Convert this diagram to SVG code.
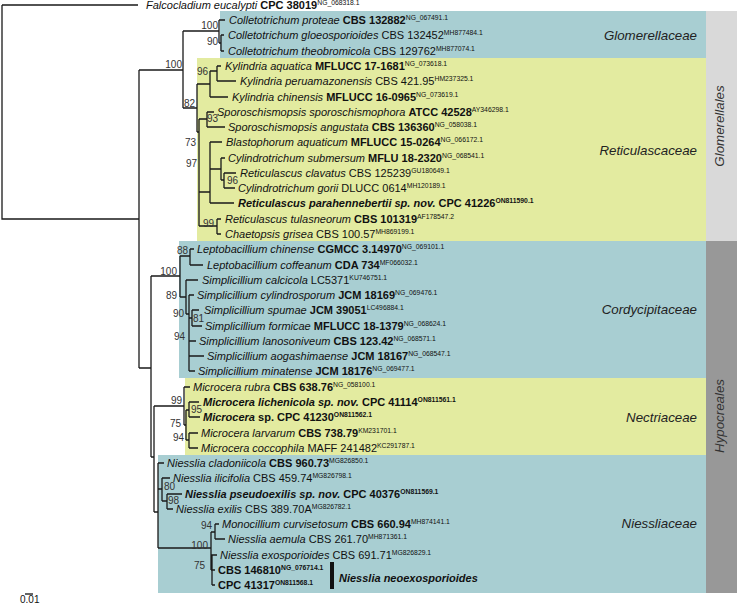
<svg xmlns="http://www.w3.org/2000/svg" width="737" height="604" viewBox="0 0 737 604">
<style>
text{font-family:"Liberation Sans",Arial,sans-serif;fill:#111}
.t{font-size:11px}
.i{font-style:italic}
.b{font-weight:bold}
.s{font-size:6.8px}
.bs{font-size:10px;fill:#333}
.fam{font-size:13.3px;font-style:italic;fill:#222}
.ord{font-size:13.3px;font-style:italic;fill:#333}
.br{fill:none;stroke:#1a1a1a;stroke-width:1.3}
</style>
<g id="backgrounds">
<rect x="220" y="11" width="486" height="47" fill="#a8ced2"/>
<rect x="197" y="58" width="509" height="183" fill="#e3eba0"/>
<rect x="179" y="241" width="527" height="137" fill="#a8ced2"/>
<rect x="185" y="378" width="521" height="77" fill="#e3eba0"/>
<rect x="158" y="455" width="548" height="138" fill="#a8ced2"/>
<rect x="706" y="11" width="31" height="230" fill="#d9d9d9"/>
<rect x="706" y="241" width="31" height="352" fill="#989898"/>
</g>
<g id="connectors" class="br">
<path d="M2,5H138M2,5V219H139M139,70V368M139,70H183M183,31V108M183,31H219M219,20V43M219,20H225M219,43H221M221,35V51M221,35H224M221,51H224"/>
<path d="M183,108H197M197,84V132M197,84H210M210,71V97M210,71H217M217,66V81M217,66H221M217,81H236M210,97H228M197,132H199M199,119V226M199,119H207M207,112V127M207,112H214M207,127H225"/>
<path d="M199,192H210M210,142V203M210,142H222M210,169H221M221,158V180M221,158H225M221,180H224M224,173V188M224,173H236M224,188H235M210,203H234M199,226H217M217,219V234M217,219H221M217,234H221"/>
<path d="M139,368H151M151,276V457M151,276H180M180,256V297M180,256H190M190,249V265M190,249H194M190,265H203M180,297H186M186,280V314M186,280H198M186,314H189M189,295V371M189,295H194M189,318H192M192,310V326M192,310H199M192,326H202M189,341H196M189,356H204M189,371H195"/>
<path d="M151,457H154M154,406V512M154,406H184M184,387V425M184,387H190M184,425H186M186,410V440M186,410H189M189,402V417M189,402H199M189,417H200M186,440H189M189,433V448M189,433H198M189,448H198"/>
<path d="M154,512H158M158,463V548M158,463H164M158,489H162M162,478V501M162,478H170M162,501H167M167,494V509M167,494H182M167,509H173M158,548H211M211,532V570M211,532H215M215,524V539M215,524H219M215,539H225M211,555H217M211,570H212M212,555V585M212,570H215M212,585H215"/>
</g>
<g id="support">
<text class="bs" x="182" y="68" text-anchor="end">100</text>
<text class="bs" x="218" y="29" text-anchor="end">100</text>
<text class="bs" x="218" y="45" text-anchor="end">90</text>
<text class="bs" x="197" y="75">96</text>
<text class="bs" x="195" y="107" text-anchor="end">82</text>
<text class="bs" x="207" y="122">93</text>
<text class="bs" x="196" y="146" text-anchor="end">73</text>
<text class="bs" x="197" y="167" text-anchor="end">97</text>
<text class="bs" x="227" y="184">96</text>
<text class="bs" x="214" y="227" text-anchor="end">99</text>
<text class="bs" x="188" y="254" text-anchor="end">88</text>
<text class="bs" x="177" y="275" text-anchor="end">100</text>
<text class="bs" x="177" y="299" text-anchor="end">89</text>
<text class="bs" x="184" y="317" text-anchor="end">90</text>
<text class="bs" x="193" y="322" font-size="9">81</text>
<text class="bs" x="185" y="340" text-anchor="end">94</text>
<text class="bs" x="182" y="404" text-anchor="end">99</text>
<text class="bs" x="191" y="413" font-size="9">95</text>
<text class="bs" x="181" y="427" text-anchor="end">75</text>
<text class="bs" x="184" y="441" text-anchor="end">94</text>
<text class="bs" x="164" y="490">80</text>
<text class="bs" x="168" y="504">98</text>
<text class="bs" x="212" y="529" text-anchor="end">94</text>
<text class="bs" x="208" y="549" text-anchor="end">100</text>
<text class="bs" x="205" y="569" text-anchor="end">75</text>
</g>
<g id="taxa" class="t">
<text id="t0" x="146" y="9"><tspan class="i">Falcocladium eucalypti </tspan><tspan class="b">CPC 38019</tspan><tspan class="s" dy="-4">NG_068318.1</tspan></text>
<text id="t1" x="229" y="24"><tspan class="i">Colletotrichum proteae </tspan><tspan class="b">CBS 132882</tspan><tspan class="s" dy="-4">NG_067491.1</tspan></text>
<text id="t2" x="228" y="39"><tspan class="i">Colletotrichum gloeosporioides </tspan>CBS 132452<tspan class="s" dy="-4">MH877484.1</tspan></text>
<text id="t3" x="228" y="55"><tspan class="i">Colletotrichum theobromicola </tspan>CBS 129762<tspan class="s" dy="-4">MH877074.1</tspan></text>
<text id="t4" x="225" y="70"><tspan class="i">Kylindria aquatica </tspan><tspan class="b">MFLUCC 17-1681</tspan><tspan class="s" dy="-4">NG_073618.1</tspan></text>
<text id="t5" x="240" y="85"><tspan class="i">Kylindria peruamazonensis </tspan>CBS 421.95<tspan class="s" dy="-4">HM237325.1</tspan></text>
<text id="t6" x="232" y="101"><tspan class="i">Kylindria chinensis </tspan><tspan class="b">MFLUCC 16-0965</tspan><tspan class="s" dy="-4">NG_073619.1</tspan></text>
<text id="t7" x="217" y="116"><tspan class="i">Sporoschismopsis sporoschismophora </tspan><tspan class="b">ATCC 42528</tspan><tspan class="s" dy="-4">AY346298.1</tspan></text>
<text id="t8" x="228" y="131"><tspan class="i">Sporoschismopsis angustata </tspan><tspan class="b">CBS 136360</tspan><tspan class="s" dy="-4">NG_058038.1</tspan></text>
<text id="t9" x="226" y="146"><tspan class="i">Blastophorum aquaticum </tspan><tspan class="b">MFLUCC 15-0264</tspan><tspan class="s" dy="-4">NG_066172.1</tspan></text>
<text id="t10" x="228" y="162"><tspan class="i">Cylindrotrichum submersum </tspan><tspan class="b">MFLU 18-2320</tspan><tspan class="s" dy="-4">NG_068541.1</tspan></text>
<text id="t11" x="240" y="177"><tspan class="i">Reticulascus clavatus </tspan>CBS 125239<tspan class="s" dy="-4">GU180649.1</tspan></text>
<text id="t12" x="238" y="192"><tspan class="i">Cylindrotrichum gorii </tspan>DLUCC 0614<tspan class="s" dy="-4">MH120189.1</tspan></text>
<text id="t13" x="238" y="207" class="b"><tspan class="i">Reticulascus parahennebertii sp. nov. </tspan>CPC 41226<tspan class="s" dy="-4">ON811590.1</tspan></text>
<text id="t14" x="225" y="223"><tspan class="i">Reticulascus tulasneorum </tspan><tspan class="b">CBS 101319</tspan><tspan class="s" dy="-4">AF178547.2</tspan></text>
<text id="t15" x="225" y="238"><tspan class="i">Chaetopsis grisea </tspan>CBS 100.57<tspan class="s" dy="-4">MH869199.1</tspan></text>
<text id="t16" x="197" y="253"><tspan class="i">Leptobacillium chinense </tspan><tspan class="b">CGMCC 3.14970</tspan><tspan class="s" dy="-4">NG_069101.1</tspan></text>
<text id="t17" x="207" y="269"><tspan class="i">Leptobacillium coffeanum </tspan><tspan class="b">CDA 734</tspan><tspan class="s" dy="-4">MF066032.1</tspan></text>
<text id="t18" x="202" y="284"><tspan class="i">Simplicillium calcicola </tspan>LC5371<tspan class="s" dy="-4">KU746751.1</tspan></text>
<text id="t19" x="197" y="299"><tspan class="i">Simplicillium cylindrosporum </tspan><tspan class="b">JCM 18169</tspan><tspan class="s" dy="-4">NG_069476.1</tspan></text>
<text id="t20" x="204" y="314"><tspan class="i">Simplicillium spumae </tspan><tspan class="b">JCM 39051</tspan><tspan class="s" dy="-4">LC496884.1</tspan></text>
<text id="t21" x="205" y="330"><tspan class="i">Simplicillium formicae </tspan><tspan class="b">MFLUCC 18-1379</tspan><tspan class="s" dy="-4">NG_068624.1</tspan></text>
<text id="t22" x="199" y="345"><tspan class="i">Simplicillium lanosoniveum </tspan><tspan class="b">CBS 123.42</tspan><tspan class="s" dy="-4">NG_068571.1</tspan></text>
<text id="t23" x="207" y="360"><tspan class="i">Simplicillium aogashimaense </tspan><tspan class="b">JCM 18167</tspan><tspan class="s" dy="-4">NG_068547.1</tspan></text>
<text id="t24" x="198" y="375"><tspan class="i">Simplicillium minatense </tspan><tspan class="b">JCM 18176</tspan><tspan class="s" dy="-4">NG_069477.1</tspan></text>
<text id="t25" x="193" y="391"><tspan class="i">Microcera rubra </tspan><tspan class="b">CBS 638.76</tspan><tspan class="s" dy="-4">NG_058100.1</tspan></text>
<text id="t26" x="203" y="406" class="b"><tspan class="i">Microcera lichenicola sp. nov. </tspan>CPC 41114<tspan class="s" dy="-4">ON811561.1</tspan></text>
<text id="t27" x="203" y="421" class="b"><tspan class="i">Microcera</tspan> sp. CPC 41230<tspan class="s" dy="-4">ON811562.1</tspan></text>
<text id="t28" x="201" y="437"><tspan class="i">Microcera larvarum </tspan><tspan class="b">CBS 738.79</tspan><tspan class="s" dy="-4">KM231701.1</tspan></text>
<text id="t29" x="201" y="452"><tspan class="i">Microcera coccophila </tspan>MAFF 241482<tspan class="s" dy="-4">KC291787.1</tspan></text>
<text id="t30" x="167" y="467"><tspan class="i">Niesslia cladoniicola </tspan><tspan class="b">CBS 960.73</tspan><tspan class="s" dy="-4">MG826850.1</tspan></text>
<text id="t31" x="173" y="482"><tspan class="i">Niesslia ilicifolia </tspan>CBS 459.74<tspan class="s" dy="-4">MG826798.1</tspan></text>
<text id="t32" x="185" y="498" class="b"><tspan class="i">Niesslia pseudoexilis sp. nov. </tspan>CPC 40376<tspan class="s" dy="-4">ON811569.1</tspan></text>
<text id="t33" x="176" y="513"><tspan class="i">Niesslia exilis </tspan>CBS 389.70A<tspan class="s" dy="-4">MG826782.1</tspan></text>
<text id="t34" x="222" y="528"><tspan class="i">Monocillium curvisetosum </tspan><tspan class="b">CBS 660.94</tspan><tspan class="s" dy="-4">MH874141.1</tspan></text>
<text id="t35" x="228" y="543"><tspan class="i">Niesslia aemula </tspan>CBS 261.70<tspan class="s" dy="-4">MH871361.1</tspan></text>
<text id="t36" x="220" y="559"><tspan class="i">Niesslia exosporioides </tspan>CBS 691.71<tspan class="s" dy="-4">MG826829.1</tspan></text>
<text id="t37" x="218" y="574" class="b">CBS 146810<tspan class="s" dy="-4">NG_076714.1</tspan></text>
<text id="t38" x="218" y="589" class="b">CPC 41317<tspan class="s" dy="-4">ON811568.1</tspan></text>
</g>
<g id="species-bar">
<rect x="330" y="562" width="4" height="27" fill="#111"/>
<text x="339" y="582" class="t b i">Niesslia neoexosporioides</text>
</g>
<g id="families">
<text class="fam" x="697" y="40" text-anchor="end">Glomerellaceae</text>
<text class="fam" x="697" y="155" text-anchor="end">Reticulascaceae</text>
<text class="fam" x="697" y="314" text-anchor="end">Cordycipitaceae</text>
<text class="fam" x="697" y="422" text-anchor="end">Nectriaceae</text>
<text class="fam" x="697" y="528" text-anchor="end">Niessliaceae</text>
</g>
<g id="orders">
<text class="ord" transform="translate(724,126) rotate(-90)" text-anchor="middle">Glomerellales</text>
<text class="ord" transform="translate(724,416) rotate(-90)" text-anchor="middle">Hypocreales</text>
</g>
<g id="scale">
<path d="M25,594H33" stroke="#111" stroke-width="1.3"/>
<text x="20" y="603" font-size="10">0.01</text>
</g>
</svg>
